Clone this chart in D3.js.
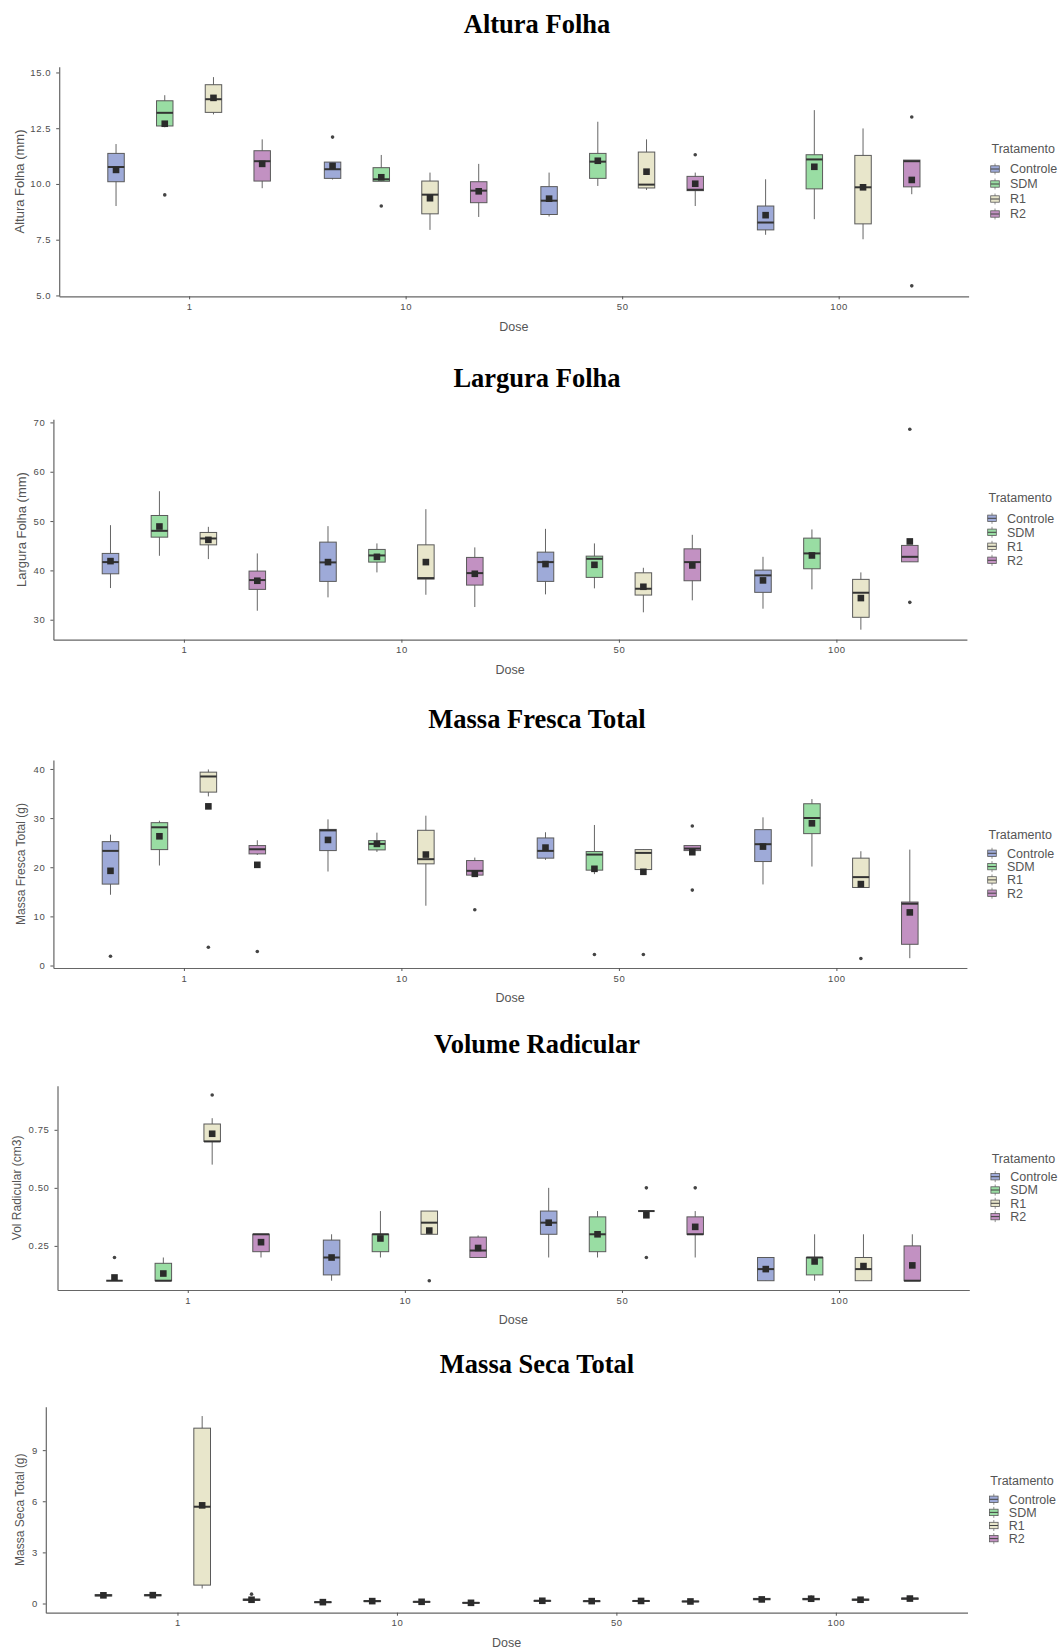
<!DOCTYPE html>
<html>
<head>
<meta charset="utf-8">
<script src="https://cdn.jsdelivr.net/npm/d3@7/dist/d3.min.js"></script>
<style>
  body { margin: 0; background: #fff; }
  text { font-family: "Liberation Sans", Arial, sans-serif; }
</style>
</head>
<body>
<div id="chart"></div>
<script>
var doses = ["1", "10", "50", "100"];
var treatments = ["Controle", "SDM", "R1", "R2"];
var colors = ["#9eaad8", "#99dda3", "#e8e6cb", "#c291c2"];

// rows = dose x tratamento (1: C,SDM,R1,R2 | 10: ... ), [lo, q1, med, q3, hi]
var alturaBox = [
  [9.01, 10.10, 10.76, 11.37, 11.79], [12.54, 12.60, 13.19, 13.73, 13.98], [13.12, 13.21, 13.80, 14.45, 14.79], [9.81, 10.13, 11.02, 11.49, 12.0],
  [10.2, 10.25, 10.66, 10.98, 10.98], [10.12, 10.12, 10.21, 10.73, 11.30], [7.94, 8.66, 9.52, 10.13, 10.51], [8.52, 9.16, 9.70, 10.10, 10.90],
  [8.54, 8.63, 9.25, 9.88, 10.51], [9.91, 10.25, 11.0, 11.37, 12.79], [9.73, 9.82, 9.97, 11.43, 12.0], [9.01, 9.70, 9.74, 10.34, 10.51],
  [7.72, 7.94, 8.27, 9.01, 10.21], [8.42, 9.78, 11.10, 11.31, 13.31], [7.52, 8.21, 9.85, 11.28, 12.49], [9.54, 9.87, 11.02, 11.07, 11.07]
];
var alturaMean = [10.63, 12.70, 13.86, 10.90, 10.81, 10.30, 9.36, 9.67, 9.34, 11.04, 10.55, 10.01, 8.60, 10.77, 9.85, 10.18];
var alturaOut = [[], [9.51], [], [], [12.10], [9.01], [], [], [], [], [], [11.31], [], [], [], [13.0, 5.43]];

var larguraBox = [
  [36.42, 39.31, 41.68, 43.44, 49.17], [42.96, 46.74, 48.02, 51.13, 56.05], [42.29, 45.18, 46.47, 47.69, 48.83], [31.82, 36.15, 38.04, 39.86, 43.44],
  [34.53, 37.77, 41.62, 45.73, 48.97], [39.59, 41.68, 43.03, 44.25, 45.47], [35.06, 38.24, 38.44, 45.18, 52.41], [32.57, 37.02, 39.45, 42.63, 44.66],
  [35.14, 37.77, 41.68, 43.70, 48.42], [36.36, 38.58, 42.35, 42.89, 45.47], [31.5, 35.0, 36.28, 39.51, 40.53], [33.93, 37.90, 41.68, 44.37, 47.21],
  [32.23, 35.55, 38.99, 40.06, 42.75], [36.15, 40.33, 43.44, 46.54, 48.3], [27.98, 30.49, 35.47, 38.18, 39.59], [41.74, 41.74, 42.75, 45.06, 45.06]
];
var larguraMean = [41.88, 48.9, 46.19, 37.9, 41.68, 42.75, 41.68, 39.31, 41.28, 41.13, 36.68, 41.0, 37.97, 43.03, 34.39, 45.87];
var larguraOut = [[], [], [], [], [], [], [], [], [], [], [], [], [], [], [], [68.6, 33.52]];

var frescaBox = [
  [14.40, 16.57, 23.33, 25.21, 26.63], [20.35, 23.59, 28.13, 29.07, 29.47], [34.42, 35.29, 38.47, 39.35, 39.9], [22.5, 22.72, 23.66, 24.41, 25.49],
  [19.13, 23.39, 27.5, 27.7, 29.75], [23.12, 23.53, 24.75, 25.42, 27.04], [12.17, 20.69, 21.64, 27.52, 30.49], [18.4, 18.40, 19.27, 21.36, 21.97],
  [21.5, 21.85, 23.33, 25.96, 27.12], [18.6, 19.41, 22.58, 23.19, 28.6], [18.46, 19.53, 22.92, 23.59, 23.7], [23.39, 23.39, 23.8, 24.41, 24.5],
  [16.5, 21.16, 24.69, 27.65, 30.16], [20.14, 26.84, 30.02, 32.92, 33.87], [15.8, 15.88, 17.99, 21.85, 23.26], [1.49, 4.32, 12.58, 12.92, 23.59]
];
var frescaMean = [19.27, 26.3, 32.39, 20.49, 25.56, 24.75, 22.58, 18.66, 24.0, 19.68, 19.07, 23.06, 24.2, 28.94, 16.57, 10.81];
var frescaOut = [[1.89], [], [3.72], [2.84], [], [], [], [11.36], [], [2.23], [2.23], [28.4, 15.35], [], [], [1.42], []];

var volumeBox = [
  [0.1, 0.1, 0.1, 0.1, 0.1], [0.1, 0.1, 0.1, 0.175, 0.2], [0.6, 0.7, 0.7, 0.775, 0.8], [0.2, 0.225, 0.3, 0.3, 0.3],
  [0.1, 0.125, 0.2, 0.275, 0.3], [0.2, 0.225, 0.3, 0.3, 0.4], [0.3, 0.3, 0.35, 0.4, 0.4], [0.2, 0.2, 0.23, 0.288, 0.295],
  [0.2, 0.3, 0.35, 0.4, 0.5], [0.2, 0.225, 0.3, 0.375, 0.4], [0.4, 0.4, 0.4, 0.4, 0.4], [0.2, 0.3, 0.3, 0.375, 0.4],
  [0.1, 0.1, 0.15, 0.2, 0.2], [0.1, 0.125, 0.2, 0.2, 0.3], [0.1, 0.1, 0.15, 0.2, 0.3], [0.1, 0.1, 0.1, 0.25, 0.3]
];
var volumeMean = [0.114, 0.131, 0.733, 0.266, 0.2, 0.282, 0.316, 0.241, 0.35, 0.3, 0.382, 0.332, 0.15, 0.183, 0.163, 0.166];
var volumeOut = [[0.2], [], [0.9], [], [], [], [0.1], [], [], [], [0.5, 0.2], [0.5], [], [], [], []];

var secaBox = [
  [0.43, 0.44, 0.48, 0.52, 0.53], [0.44, 0.45, 0.49, 0.52, 0.53], [0.88, 1.08, 5.68, 10.29, 11.0], [0.17, 0.18, 0.22, 0.26, 0.27],
  [0.04, 0.05, 0.08, 0.10, 0.11], [0.10, 0.11, 0.14, 0.17, 0.18], [0.06, 0.07, 0.10, 0.12, 0.13], [0.01, 0.02, 0.04, 0.06, 0.07],
  [0.12, 0.13, 0.16, 0.18, 0.19], [0.10, 0.11, 0.14, 0.16, 0.17], [0.11, 0.12, 0.15, 0.17, 0.18], [0.09, 0.10, 0.12, 0.14, 0.15],
  [0.08, 0.22, 0.26, 0.30, 0.31], [0.20, 0.22, 0.26, 0.30, 0.49], [0.17, 0.19, 0.22, 0.26, 0.27], [0.24, 0.25, 0.29, 0.32, 0.33]
];
var secaMean = [0.48, 0.49, 5.76, 0.22, 0.08, 0.14, 0.10, 0.04, 0.16, 0.14, 0.15, 0.12, 0.24, 0.28, 0.22, 0.29];
var secaOut = [[], [], [], [0.55], [], [], [], [], [], [], [], [], [], [], [], []];

var alturaTicks = [5, 7.5, 10, 12.5, 15];
var larguraTicks = [30, 40, 50, 60, 70];
var frescaTicks = [0, 10, 20, 30, 40];
var volumeTicks = [0.25, 0.5, 0.75];
var secaTicks = [0, 3, 6, 9];

var panels = [
  {title: "Altura Folha", ylab: "Altura Folha (mm)", box: alturaBox, mean: alturaMean, out: alturaOut, ticks: alturaTicks, fmt: ".1f",
   titleY: 33, top: 66.7, bottom: 296.3, left: 59.2, right: 968.6, ylabX: 19, ylabSize: 13, legX: 991.5, legTitleY: 149, legRowY: 169, legStep: 15},
  {title: "Largura Folha", ylab: "Largura Folha (mm)", box: larguraBox, mean: larguraMean, out: larguraOut, ticks: larguraTicks, fmt: "d",
   titleY: 386.7, top: 419.3, bottom: 639.7, left: 53.4, right: 966.9, ylabX: 21, ylabSize: 13, legX: 988.5, legTitleY: 497.7, legRowY: 518.3, legStep: 14},
  {title: "Massa Fresca Total", ylab: "Massa Fresca Total (g)", box: frescaBox, mean: frescaMean, out: frescaOut, ticks: frescaTicks, fmt: "d",
   titleY: 727.7, top: 760, bottom: 968, left: 53.4, right: 966.9, ylabX: 21, ylabSize: 12, legX: 988.5, legTitleY: 834.3, legRowY: 853.3, legStep: 13.3},
  {title: "Volume Radicular", ylab: "Vol Radicular (cm3)", box: volumeBox, mean: volumeMean, out: volumeOut, ticks: volumeTicks, fmt: ".2f",
   titleY: 1053.3, top: 1085.7, bottom: 1290, left: 57.5, right: 969.3, ylabX: 16.5, ylabSize: 12, legX: 991.7, legTitleY: 1158.3, legRowY: 1176.7, legStep: 13.3},
  {title: "Massa Seca Total", ylab: "Massa Seca Total (g)", box: secaBox, mean: secaMean, out: secaOut, ticks: secaTicks, fmt: "d",
   titleY: 1373.3, top: 1406.7, bottom: 1612.7, left: 45.8, right: 967.5, ylabX: 19.6, ylabSize: 12, legX: 990.3, legTitleY: 1480.3, legRowY: 1499.3, legStep: 13.1}
];

var svg = d3.select("#chart")
  .append("svg")
  .attr("width", 1061)
  .attr("height", 1649);

panels.forEach(function(p) {
  var g = svg.append("g");

  // title
  g.append("text")
    .attr("x", 537)
    .attr("y", p.titleY)
    .attr("text-anchor", "middle")
    .style("font-family", "'Liberation Serif', 'Times New Roman', serif")
    .style("font-weight", "bold")
    .style("font-size", "26.5px")
    .style("fill", "#000")
    .text(p.title);

  var x = d3.scalePoint()
    .domain(doses)
    .range([p.left, p.right])
    .padding(0.6);
  var step = x.step();
  var dodge = d3.scaleBand()
    .domain(treatments)
    .range([-0.45 * step, 0.45 * step]);
  var bw = 0.076 * step;

  // ggplot style 5% expansion
  var all = [];
  p.box.forEach(function(b, i) { all = all.concat(b, p.out[i], [p.mean[i]]); });
  var lo = d3.min(all), hi = d3.max(all), r = hi - lo;
  var y = d3.scaleLinear()
    .domain([lo - 0.05 * r, hi + 0.05 * r])
    .range([p.bottom, p.top]);

  var rows = p.box.map(function(b, i) {
    return {dose: doses[Math.floor(i / 4)], trat: treatments[i % 4], col: colors[i % 4],
            lo: b[0], q1: b[1], med: b[2], q3: b[3], hi: b[4], mean: p.mean[i], out: p.out[i]};
  });
  var cx = function(d) { return x(d.dose) + dodge(d.trat) + dodge.bandwidth() / 2; };

  // axes
  var yAxis = g.append("g")
    .attr("transform", "translate(" + p.left + ",0)")
    .call(d3.axisLeft(y).tickValues(p.ticks).tickFormat(d3.format(p.fmt)).tickSize(3).tickSizeOuter(0).tickPadding(5));
  var xAxis = g.append("g")
    .attr("transform", "translate(0," + p.bottom + ")")
    .call(d3.axisBottom(x).tickSize(3).tickSizeOuter(0).tickPadding(4));
  [yAxis, xAxis].forEach(function(a) {
    a.select(".domain").attr("stroke", "#666").attr("stroke-width", 1.2);
    a.selectAll(".tick line").attr("stroke", "#555");
    a.selectAll(".tick text")
      .style("font-size", "9.5px")
      .style("letter-spacing", "0.6px")
      .style("fill", "#4d4d4d");
  });

  g.append("text")
    .attr("x", (p.left + p.right) / 2)
    .attr("y", p.bottom + 30)
    .attr("dy", "0.35em")
    .attr("text-anchor", "middle")
    .style("font-size", "12.5px")
    .style("fill", "#555")
    .text("Dose");

  g.append("text")
    .attr("transform", "translate(" + p.ylabX + "," + ((p.top + p.bottom) / 2) + ") rotate(-90)")
    .attr("dy", "0.35em")
    .attr("text-anchor", "middle")
    .style("font-size", p.ylabSize + "px")
    .style("fill", "#555")
    .text(p.ylab);

  // boxes
  var bx = g.selectAll(".bx")
    .data(rows)
    .enter().append("g")
    .attr("class", "bx");

  bx.append("line")
    .attr("x1", cx).attr("x2", cx)
    .attr("y1", function(d) { return y(d.lo); })
    .attr("y2", function(d) { return y(d.hi); })
    .attr("stroke", "#666")
    .attr("stroke-width", 1);

  bx.append("rect")
    .attr("x", function(d) { return cx(d) - bw / 2; })
    .attr("width", bw)
    .attr("y", function(d) { return y(d.q3); })
    .attr("height", function(d) { return Math.max(0, y(d.q1) - y(d.q3)); })
    .attr("fill", function(d) { return d.col; })
    .attr("stroke", "#5a5a5a")
    .attr("stroke-width", 1);

  bx.append("line")
    .attr("x1", function(d) { return cx(d) - bw / 2; })
    .attr("x2", function(d) { return cx(d) + bw / 2; })
    .attr("y1", function(d) { return y(d.med); })
    .attr("y2", function(d) { return y(d.med); })
    .attr("stroke", "#333")
    .attr("stroke-width", 2);

  bx.selectAll(".out")
    .data(function(d) { return d.out.map(function(v) { return {v: v, d: d}; }); })
    .enter().append("circle")
    .attr("cx", function(o) { return cx(o.d); })
    .attr("cy", function(o) { return y(o.v); })
    .attr("r", 1.8)
    .attr("fill", "#444");

  bx.append("rect")
    .attr("x", function(d) { return cx(d) - 3.3; })
    .attr("y", function(d) { return y(d.mean) - 3.3; })
    .attr("width", 6.6)
    .attr("height", 6.6)
    .attr("fill", "#2b2b2b");

  // legend
  var leg = g.append("g");
  leg.append("text")
    .attr("x", p.legX)
    .attr("y", p.legTitleY)
    .attr("dy", "0.35em")
    .style("font-size", "12.5px")
    .style("fill", "#555")
    .text("Tratamento");

  var item = leg.selectAll(".item")
    .data(treatments)
    .enter().append("g")
    .attr("transform", function(d, i) { return "translate(" + (p.legX + 3.5) + "," + (p.legRowY + i * p.legStep) + ")"; });
  item.append("line")
    .attr("x1", 0).attr("x2", 0).attr("y1", -5.5).attr("y2", 5.5)
    .attr("stroke", "#777").attr("stroke-width", 0.8);
  item.append("rect")
    .attr("x", -4.3).attr("y", -3.2).attr("width", 8.6).attr("height", 6.4)
    .attr("fill", function(d, i) { return colors[i]; })
    .attr("stroke", "#5a5a5a").attr("stroke-width", 0.8);
  item.append("line")
    .attr("x1", -4.3).attr("x2", 4.3).attr("y1", 0).attr("y2", 0)
    .attr("stroke", "#444").attr("stroke-width", 1);
  item.append("text")
    .attr("x", 15)
    .attr("dy", "0.35em")
    .style("font-size", "12.5px")
    .style("fill", "#555")
    .text(function(d) { return d; });
});
</script>
</body>
</html>
